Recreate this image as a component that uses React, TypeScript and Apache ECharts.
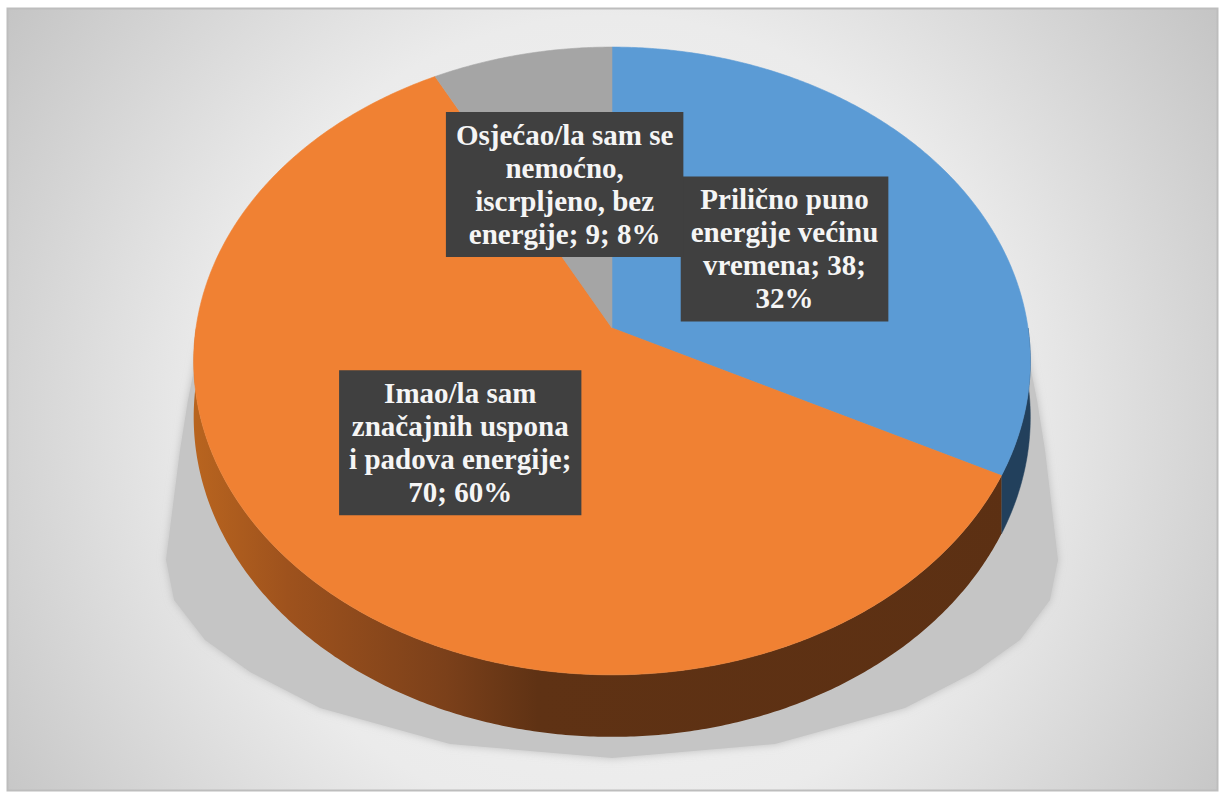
import React, { useEffect, useRef } from "react";
import * as echarts from "echarts";

// ---------- data ----------
const categories = [
  "Prilično puno energije većinu vremena",
  "Imao/la sam značajnih uspona i padova energije",
  "Osjećao/la sam se nemoćno, iscrpljeno, bez energije",
];
const values = [38, 70, 9];
const sliceColors = ["#5B9BD5", "#F08133", "#A5A5A5"];
// wrapped label texts as in the source ({v} = value, {p} = percent)
const labelTemplates = [
  "Prilično puno\nenergije većinu\nvremena; {v};\n{p}%",
  "Imao/la sam\nznačajnih uspona\ni padova energije;\n{v}; {p}%",
  "Osjećao/la sam se\nnemoćno,\niscrpljeno, bez\nenergije; {v}; {p}%",
];

// ---------- 3D projection (layout) ----------
const CX = 612;
const CY = 328;
const RX = 416;
const RY = 276;
const PERSP = 0.105;
const DEPTH = 55.5;

function proj(phi: number, f = 1, drop = 0): number[] {
  const s = Math.sin(phi) * f;
  const c = Math.cos(phi) * f;
  const w = 1 + PERSP * c;
  return [CX + (RX * s) / w, (CY - RY * c + drop) / w];
}

function arc(a: number, b: number, drop = 0): number[][] {
  const n = Math.max(2, Math.ceil(Math.abs(b - a) / (Math.PI / 360)));
  const pts: number[][] = [];
  for (let k = 0; k <= n; k++) pts.push(proj(a + ((b - a) * k) / n, 1, drop));
  return pts;
}

const wallFill = (i: number) => {
  if (i === 0) return "#22405C";
  if (i === 1)
    return new echarts.graphic.LinearGradient(
      196, 0, 1030, 0,
      [
        { offset: 0, color: "#B8641F" },
        { offset: 0.11, color: "#9E521D" },
        { offset: 0.3, color: "#7B401A" },
        { offset: 0.41, color: "#5F3214" },
        { offset: 1, color: "#5C3013" },
      ],
      true
    );
  return "#6E6E6E";
};

export default function App() {
  const ref = useRef<HTMLDivElement>(null);

  useEffect(() => {
    const chart = echarts.init(ref.current!, null, { renderer: "svg" });
    const total = values.reduce((a, b) => a + b, 0);
    const cum: number[] = [0];
    values.forEach((v, i) => cum.push(cum[i] + v));

    // soft shadow of the pie on the floor
    const shadowPts: number[][] = [
      [260, 215],
      [199, 345],
      [188, 400],
      [180, 450],
      [166, 560],
      [174, 600],
      [205, 640],
      [250, 672],
      [320, 708],
      [450, 744],
      [612, 758],
      [775, 744],
      [905, 708],
      [975, 672],
      [1020, 640],
      [1050, 600],
      [1058, 560],
      [1045, 450],
      [1037, 400],
      [1026, 345],
      [965, 215],
    ];

    const option: any = {
      animation: false,
      graphic: [
        {
          type: "rect",
          z: -10,
          shape: { x: 7.5, y: 8.5, width: 1210, height: 782 },
          style: {
            fill: {
              type: "radial",
              x: 612,
              y: 420,
              r: 735,
              global: true,
              colorStops: [
                { offset: 0, color: "#F4F4F4" },
                { offset: 0.55, color: "#EBEBEB" },
                { offset: 1, color: "#C4C4C4" },
              ],
            },
            stroke: "#BDBDBD",
            lineWidth: 2,
          },
        },
        {
          type: "polygon",
          z: -5,
          shape: { points: shadowPts },
          style: {
            fill: "#C5C5C5",
            shadowBlur: 8,
            shadowColor: "rgba(170,170,170,0.7)",
          },
        },
      ],
      series: [
        {
          type: "custom",
          coordinateSystem: "none",
          data: values.map((v, i) => ({ name: categories[i], value: v })),
          renderItem: (params: any) => {
            const i = params.dataIndex;
            const a = (cum[i] / total) * Math.PI * 2;
            const b = (cum[i + 1] / total) * Math.PI * 2;
            const children: any[] = [];
            // outer wall (front half only)
            const wa = Math.max(a, Math.PI / 2);
            const wb = Math.min(b, (Math.PI * 3) / 2);
            if (wb > wa) {
              const pts = arc(wa, wb, 0).concat(arc(wb, wa, DEPTH));
              children.push({
                type: "polygon",
                z2: 1,
                shape: { points: pts },
                style: { fill: wallFill(i), stroke: i === 0 ? "#22405C" : null, lineWidth: 0.5 },
              });
            }
            // top face
            const topPts = [proj(0, 0)].concat(arc(a, b, 0));
            children.push({
              type: "polygon",
              z2: 2,
              shape: { points: topPts },
              style: { fill: sliceColors[i], stroke: sliceColors[i], lineWidth: 0.6 },
            });
            // label
            const mid = (a + b) / 2;
            const [lx, ly] = proj(mid, 0.5);
            const pct = Math.round((values[i] / total) * 100);
            const txt = labelTemplates[i]
              .replace("{v}", String(values[i]))
              .replace("{p}", String(pct));
            children.push({
              type: "text",
              z2: 20 + i,
              x: lx,
              y: ly,
              style: {
                text: txt,
                fill: "#F5F5F5",
                font: 'bold 29px "Liberation Serif", "Times New Roman", serif',
                lineHeight: 33,
                align: "center",
                verticalAlign: "middle",
                backgroundColor: "#404040",
                padding: [7, 10, 6, 10],
                boxShadowBlur: 5,
                boxShadowColor: "rgba(0,0,0,0.55)",
                boxShadowOffsetX: 3,
                boxShadowOffsetY: 3,
              },
            });
            return { type: "group", children };
          },
        },
      ],
    };
    chart.setOption(option);
    return () => chart.dispose();
  }, []);

  return (
    <div
      ref={ref}
      style={{ position: "absolute", left: 0, top: 0, width: 1221, height: 796, background: "#fff" }}
    />
  );
}
